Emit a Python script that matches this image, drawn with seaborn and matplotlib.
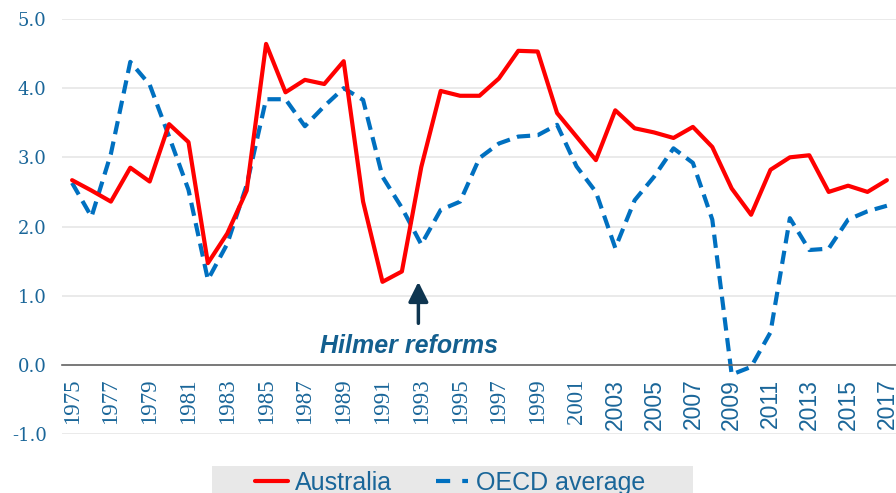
import numpy as np
import pandas as pd
import matplotlib
matplotlib.use("Agg")
import matplotlib.pyplot as plt
from matplotlib.lines import Line2D
from matplotlib.patches import Rectangle
import seaborn as sns

# ---- data ----
years = list(range(1975, 2018))
australia = [2.67, 2.52, 2.36, 2.85, 2.65, 3.48, 3.22, 1.47, 1.90, 2.52,
             4.64, 3.94, 4.12, 4.06, 4.39, 2.36, 1.20, 1.35, 2.86, 3.96,
             3.89, 3.89, 4.14, 4.54, 4.53, 3.64, 3.30, 2.96, 3.68, 3.42,
             3.36, 3.28, 3.44, 3.15, 2.55, 2.17, 2.82, 3.00, 3.03, 2.50,
             2.59, 2.50, 2.67]
oecd = [2.63, 2.14, 3.05, 4.38, 4.05, 3.30, 2.53, 1.23, 1.75, 2.60,
        3.84, 3.84, 3.45, 3.74, 4.00, 3.83, 2.72, 2.27, 1.74, 2.24,
        2.36, 2.99, 3.20, 3.30, 3.32, 3.47, 2.87, 2.50, 1.69, 2.38,
        2.72, 3.13, 2.92, 2.10, -0.14, -0.03, 0.47, 2.12, 1.66, 1.68,
        2.10, 2.22, 2.30]
tick_years = list(range(1975, 2018, 2))
y_ticks = [-1.0, 0.0, 1.0, 2.0, 3.0, 4.0, 5.0]

df = pd.DataFrame({"year": years, "Australia": australia, "OECD average": oecd})

TXT = "#1a6699"
RED = "#ff0000"
BLUE = "#0070c0"

sns.set_style("white")
plt.rcParams["font.family"] = ["Liberation Sans", "DejaVu Sans"]

fig = plt.figure(figsize=(8.96, 4.93), dpi=100)
ax = fig.add_axes([62 / 896, 59 / 493, 1 - 62 / 896, 415 / 493])

sns.lineplot(data=df, x="year", y="OECD average", color=BLUE, lw=3,
             linestyle=(0, (3.2, 1.8)), ax=ax)
sns.lineplot(data=df, x="year", y="Australia", color=RED, lw=3, ax=ax)

ax.set_xlim(1974.48, 2017.47)
ax.set_ylim(-1.0, 5.0)
ax.set_xlabel("")
ax.set_ylabel("")

# gridlines
ax.set_yticks(y_ticks)
ax.set_yticklabels([f"{v:.1f}" for v in y_ticks], family="DejaVu Serif",
                   fontsize=13, color=TXT)
ax.tick_params(axis="y", length=0, pad=11)
ax.grid(axis="y", color="#e6e6e6", lw=1.2)
ax.set_axisbelow(True)
for s in ["top", "right", "left"]:
    ax.spines[s].set_visible(False)
ax.spines["bottom"].set_position(("data", 0))
ax.spines["bottom"].set_color("#666666")
ax.spines["bottom"].set_linewidth(1.2)

# year labels hang under the zero line
ax.set_xticks(tick_years)
ax.set_xticklabels([str(y) for y in tick_years], rotation=90, fontsize=16.5,
                   color=TXT)
for lab, y in zip(ax.get_xticklabels(), tick_years):
    lab.set_family("Liberation Serif" if y <= 2001 else "Liberation Sans")
ax.tick_params(axis="x", length=0, pad=10)

# annotation
ax.annotate("", xy=(1992.85, 1.2), xytext=(1992.85, 0.6),
            arrowprops=dict(arrowstyle="-|>", color="#0e3550", lw=2.5,
                            mutation_scale=30, shrinkA=0, shrinkB=0))
ax.text(1992.35, 0.27, "Hilmer reforms", fontsize=18, fontweight="bold",
        fontstyle="italic", color="#135f8f", ha="center", va="center")

# legend (grey band at the bottom, cut by the figure edge)
fig.patches.append(Rectangle((212 / 896, 0), (693 - 212) / 896, 27 / 493,
                             transform=fig.transFigure, facecolor="#e8e8e8",
                             edgecolor="none", zorder=0))
handles = [Line2D([], [], color=RED, lw=3),
           Line2D([], [], color=BLUE, lw=3, linestyle=(0, (3.4, 2.9)))]
leg = fig.legend(handles, ["Australia", "OECD average"], loc="center left",
                 bbox_to_anchor=(255 / 896, 10 / 493), ncol=2, fontsize=18,
                 frameon=False, handlelength=1.3, columnspacing=1.75,
                 handletextpad=0.3, borderpad=0, borderaxespad=0)
for t in leg.get_texts():
    t.set_color(TXT)

fig.savefig("out.png", dpi=100)
